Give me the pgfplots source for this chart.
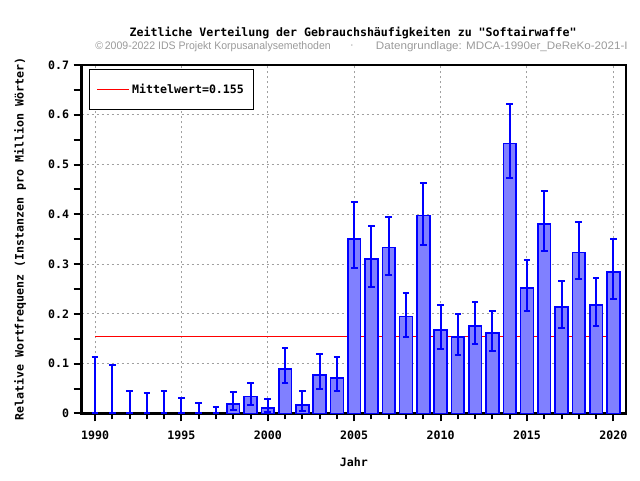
\documentclass[border=0pt]{standalone}
\usepackage{fontspec}
\setmainfont{Liberation Sans}
\setmonofont{DejaVu Sans Mono}
\usepackage{pgfplots}
\pgfplotsset{compat=1.18}
\usepackage{pgfplotstable}
\definecolor{barfill}{HTML}{8080FF}
\definecolor{barblue}{HTML}{0000FF}
\definecolor{gridgray}{HTML}{A0A0A0}
\definecolor{subgray}{HTML}{9A9A9A}
\newcommand\monob{\fontsize{8.7}{10}\selectfont\ttfamily\bfseries}
\newcommand\subf{\fontsize{8.2}{9.8}\selectfont}

\pgfplotstableread{
x y ep em
1998 0.0195 0.0235 0.0135
1999 0.034 0.028 0.016
2000 0.011 0.018 0.008
2001 0.089 0.042 0.028
2002 0.0168 0.028 0.011
2003 0.077 0.042 0.027
2004 0.071 0.042 0.026
2005 0.351 0.074 0.059
2006 0.310 0.067 0.056
2007 0.333 0.062 0.055
2008 0.195 0.046 0.041
2009 0.398 0.065 0.059
2010 0.168 0.049 0.039
2011 0.154 0.045 0.037
2012 0.176 0.048 0.037
2013 0.162 0.044 0.037
2014 0.542 0.080 0.069
2015 0.252 0.056 0.046
2016 0.381 0.066 0.055
2017 0.214 0.052 0.043
2018 0.323 0.061 0.053
2019 0.218 0.054 0.043
2020 0.284 0.066 0.055
}\bardata

\pgfplotstableread{
x y ep em
1990 0 0.113 0
1991 0 0.098 0
1992 0 0.046 0
1993 0 0.042 0
1994 0 0.046 0
1995 0 0.031 0
1996 0 0.0215 0
1997 0 0.0127 0
}\zerodata

\begin{document}
\begin{tikzpicture}
\useasboundingbox (-61.3pt,-49.9pt) rectangle (418.7pt,310.1pt);
\begin{axis}[
  scale only axis, width=408.2pt, height=261.4pt,
  at={(0,0)}, anchor=south west,
  xmin=1989.23, xmax=2020.73, ymin=0, ymax=0.7,
  axis line style={line width=2pt, black},
  tick align=outside, tick pos=left,
  major tick length=6pt, minor tick length=4.5pt,
  every tick/.style={line width=1.5pt, black},
  xtick={1990,1995,2000,2005,2010,2015,2020},
  xticklabels={1990,1995,2000,2005,2010,2015,2020},
  xticklabel style={yshift=-3.5pt},
  minor xtick={1991,1992,1993,1994,1996,1997,1998,1999,2001,2002,2003,2004,2006,2007,2008,2009,2011,2012,2013,2014,2016,2017,2018,2019},
  ytick={0,0.1,0.2,0.3,0.4,0.5,0.6,0.7},
  yticklabels={0,0.1,0.2,0.3,0.4,0.5,0.6,0.7},
  extra y ticks={0.05,0.15,0.25,0.35,0.45,0.55,0.65},
  extra y tick labels={},
  extra y tick style={grid=none},
  grid=major,
  major grid style={gridgray, line width=0.75pt, dash pattern=on 1.5pt off 2.25pt},
  ticklabel style={font=\monob},
  label style={font=\monob},
  xlabel={Jahr},
  ylabel={Relative Wortfrequenz (Instanzen pro Million Wörter)},
  xlabel style={at={(axis description cs:0.5,-0.139)}, anchor=center},
  ylabel style={at={(axis description cs:-0.1134,0.5)}, anchor=center},
  legend style={at={(rel axis cs:0.014,0.988)}, anchor=north west, draw=black,
    line width=0.75pt, font=\monob, fill=white, inner xsep=5pt, inner ysep=8.5pt,
    /tikz/every even column/.append style={column sep=3pt}},
  legend image code/.code={\draw[red, line width=0.75pt] (0pt,0pt) -- (24pt,0pt);},
]
\addplot[red, line width=0.75pt] coordinates {(1990,0.155) (2020,0.155)};
\addlegendentry{Mittelwert=0.155}
\addplot[ybar, bar width=0.74, bar shift=0pt, fill=barfill, draw=barblue, line width=1.2pt, forget plot,
  error bars/.cd, y dir=both, y explicit,
  error bar style={draw=barblue, line width=1.5pt},
  error mark options={draw=barblue, rotate=90, mark size=2.5pt, line width=1.5pt}]
  table[x=x, y=y, y error plus=ep, y error minus=em] {\bardata};
\addplot[draw=none, mark=none, forget plot,
  error bars/.cd, y dir=both, y explicit,
  error bar style={draw=barblue, line width=1.5pt},
  error mark options={draw=barblue, rotate=90, mark size=2.5pt, line width=1.5pt}]
  table[x=x, y=y, y error plus=ep, y error minus=em] {\zerodata};
\end{axis}
\node[font=\monob] at (203.5pt,285.4pt) {Zeitliche Verteilung der Gebrauchshäufigkeiten zu "Softairwaffe"};
\node[font=\subf, text=subgray, anchor=west, inner sep=0pt] at (10pt,274.9pt) {\scalebox{0.963}[1]{©\,2009-2022 IDS Projekt Korpusanalysemethoden}};
\node[font=\subf, text=subgray, inner sep=0pt] at (202.7pt,274.9pt) {·};
\node[font=\subf, text=subgray, anchor=east, inner sep=0pt] at (409.7pt,274.9pt) {\scalebox{1.063}[1]{Datengrundlage: MDCA-1990er\_DeReKo-2021-I}};
\end{tikzpicture}
\end{document}
